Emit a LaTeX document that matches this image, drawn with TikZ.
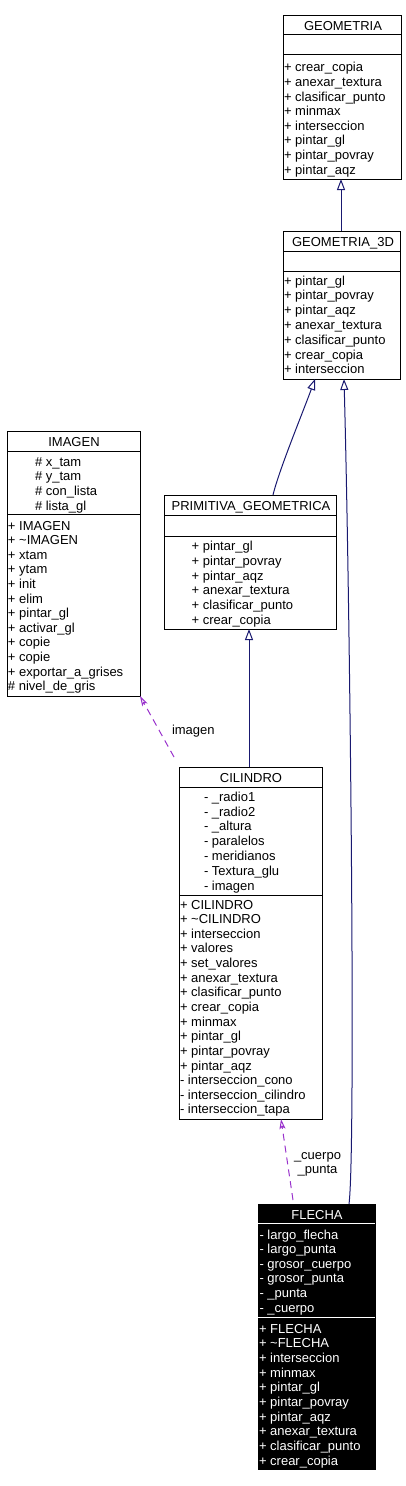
\documentclass[tikz,border=0pt]{standalone}
\usepackage{fontspec}
\setmainfont{Liberation Sans}
\usetikzlibrary{arrows.meta}
\definecolor{midblue}{RGB}{25,25,112}
\definecolor{orchid}{RGB}{153,50,204}
\tikzset{
  cls/.style={draw=black, line width=1pt, fill=white, inner sep=0pt, outer sep=0pt, anchor=north west},
  txt/.style={inner sep=0pt, outer sep=0pt, anchor=base west, font=\fontsize{13}{15}\selectfont},
  ttl/.style={inner sep=0pt, outer sep=0pt, anchor=base, font=\fontsize{13}{15}\selectfont},
  sep/.style={line width=1pt},
  inh/.style={draw=midblue, line width=1pt, -{Triangle[open,length=11pt,width=8pt]}},
  usage/.style={draw=orchid, line width=1pt, dash pattern=on 7pt off 5pt, -{Stealth[open,length=10pt,width=6pt,inset=2pt]}},
}
\newcommand\classrows[6]{% name, x, y0, dy, color, list
  \foreach \t [count=\i from 0] in {#6} \node[txt,text=#5] (#1-\i) at (#2,{#3+\i*#4}) {\t};}
\begin{document}
\begin{tikzpicture}[x=1pt,y=-1pt]
\useasboundingbox (0,0) rectangle (405,1486);

% GEOMETRIA
\node[cls, minimum width=118pt, minimum height=164pt] (geo) at (283,15) {};
\draw[sep] (283,34) -- (401,34);
\draw[sep] (283,54) -- (401,54);
\node[ttl] (geo-t) at (343,30.5) {GEOMETRIA};
\classrows{geo}{284}{71.7}{14.65}{black}{+ crear\_copia, + anexar\_textura, + clasificar\_punto, + minmax, + interseccion, + pintar\_gl, + pintar\_povray, + pintar\_aqz}

% GEOMETRIA_3D
\node[cls, minimum width=117pt, minimum height=148pt] (g3d) at (283,231) {};
\draw[sep] (283,251) -- (400,251);
\draw[sep] (283,271) -- (400,271);
\node[ttl] (g3d-t) at (343,246.5) {GEOMETRIA\_3D};
\classrows{g3d}{284}{285}{14.8}{black}{+ pintar\_gl, + pintar\_povray, + pintar\_aqz, + anexar\_textura, + clasificar\_punto, + crear\_copia, + interseccion}

% IMAGEN
\node[cls, minimum width=133pt, minimum height=265pt] (img) at (7,431) {};
\draw[sep] (7,451) -- (140,451);
\draw[sep] (7,514) -- (140,514);
\node[ttl] (img-t) at (74,446.5) {IMAGEN};
\classrows{imga}{35}{466.3}{14.6}{black}{\# x\_tam, \# y\_tam, \# con\_lista, \# lista\_gl}
\classrows{imgm}{8}{530}{14.6}{black}{+ IMAGEN, + \textasciitilde{}IMAGEN, + xtam, + ytam, + init, + elim, + pintar\_gl, + activar\_gl, + copie, + copie, + exportar\_a\_grises, \# nivel\_de\_gris}

% PRIMITIVA_GEOMETRICA
\node[cls, minimum width=172pt, minimum height=134pt] (prim) at (164,495) {};
\draw[sep] (164,515) -- (336,515);
\draw[sep] (164,536) -- (336,536);
\node[ttl] (prim-t) at (251,510.5) {PRIMITIVA\_GEOMETRICA};
\classrows{prim}{191.7}{550.7}{14.67}{black}{+ pintar\_gl, + pintar\_povray, + pintar\_aqz, + anexar\_textura, + clasificar\_punto, + crear\_copia}

% CILINDRO
\node[cls, minimum width=143pt, minimum height=352pt] (cil) at (179,767) {};
\draw[sep] (179,787) -- (322,787);
\draw[sep] (179,895) -- (322,895);
\node[ttl] (cil-t) at (251,782.5) {CILINDRO};
\classrows{cila}{204}{801.3}{14.8}{black}{- \_radio1, - \_radio2, - \_altura, - paralelos, - meridianos, - Textura\_glu, - imagen}
\classrows{cilm}{180}{909}{14.64}{black}{+ CILINDRO, + \textasciitilde{}CILINDRO, + interseccion, + valores, + set\_valores, + anexar\_textura, + clasificar\_punto, + crear\_copia, + minmax, + pintar\_gl, + pintar\_povray, + pintar\_aqz, - interseccion\_cono, - interseccion\_cilindro, - interseccion\_tapa}

% FLECHA
\node[cls, fill=black, minimum width=117pt, minimum height=265pt] (fle) at (258,1204) {};
\draw[sep, white] (258,1223) -- (375,1223);
\draw[sep, white] (258,1317) -- (375,1317);
\node[ttl, text=white] (fle-t) at (317,1219) {FLECHA};
\classrows{flea}{259.5}{1239}{14.66}{white}{- largo\_flecha, - largo\_punta, - grosor\_cuerpo, - grosor\_punta, - \_punta, - \_cuerpo}
\classrows{flem}{259}{1333}{14.67}{white}{+ FLECHA, + \textasciitilde{}FLECHA, + interseccion, + minmax, + pintar\_gl, + pintar\_povray, + pintar\_aqz, + anexar\_textura, + clasificar\_punto, + crear\_copia}

% connectors
\draw[inh] ([xshift=-0.5pt]g3d.north) -- ([xshift=-0.5pt]g3d.north |- geo.south);
\draw[inh] ([xshift=23pt]prim.north) .. controls (279,470) and (303,412) .. ([xshift=-26.5pt]g3d.south);
\draw[inh] ([xshift=32.5pt]fle.north) .. controls (356,1150) and (350,600) .. ([xshift=2.5pt]g3d.south);
\draw[inh] ([xshift=-1.5pt]cil.north) -- ([xshift=-1.5pt]cil.north |- prim.south);
\draw[usage] ([shift={(-5,-10)}]cil.north west) -- (img.south east);
\draw[usage] ([shift={(35,-4)}]fle.north west) -- ([xshift=-41pt]cil.south east);

% labels
\node[txt] (l-img) at (172,734.5) {imagen};
\node[ttl] (l-cue) at (317.5,1159) {\_cuerpo};
\node[ttl] (l-pun) at (317.5,1173.5) {\_punta};
\end{tikzpicture}
\end{document}
